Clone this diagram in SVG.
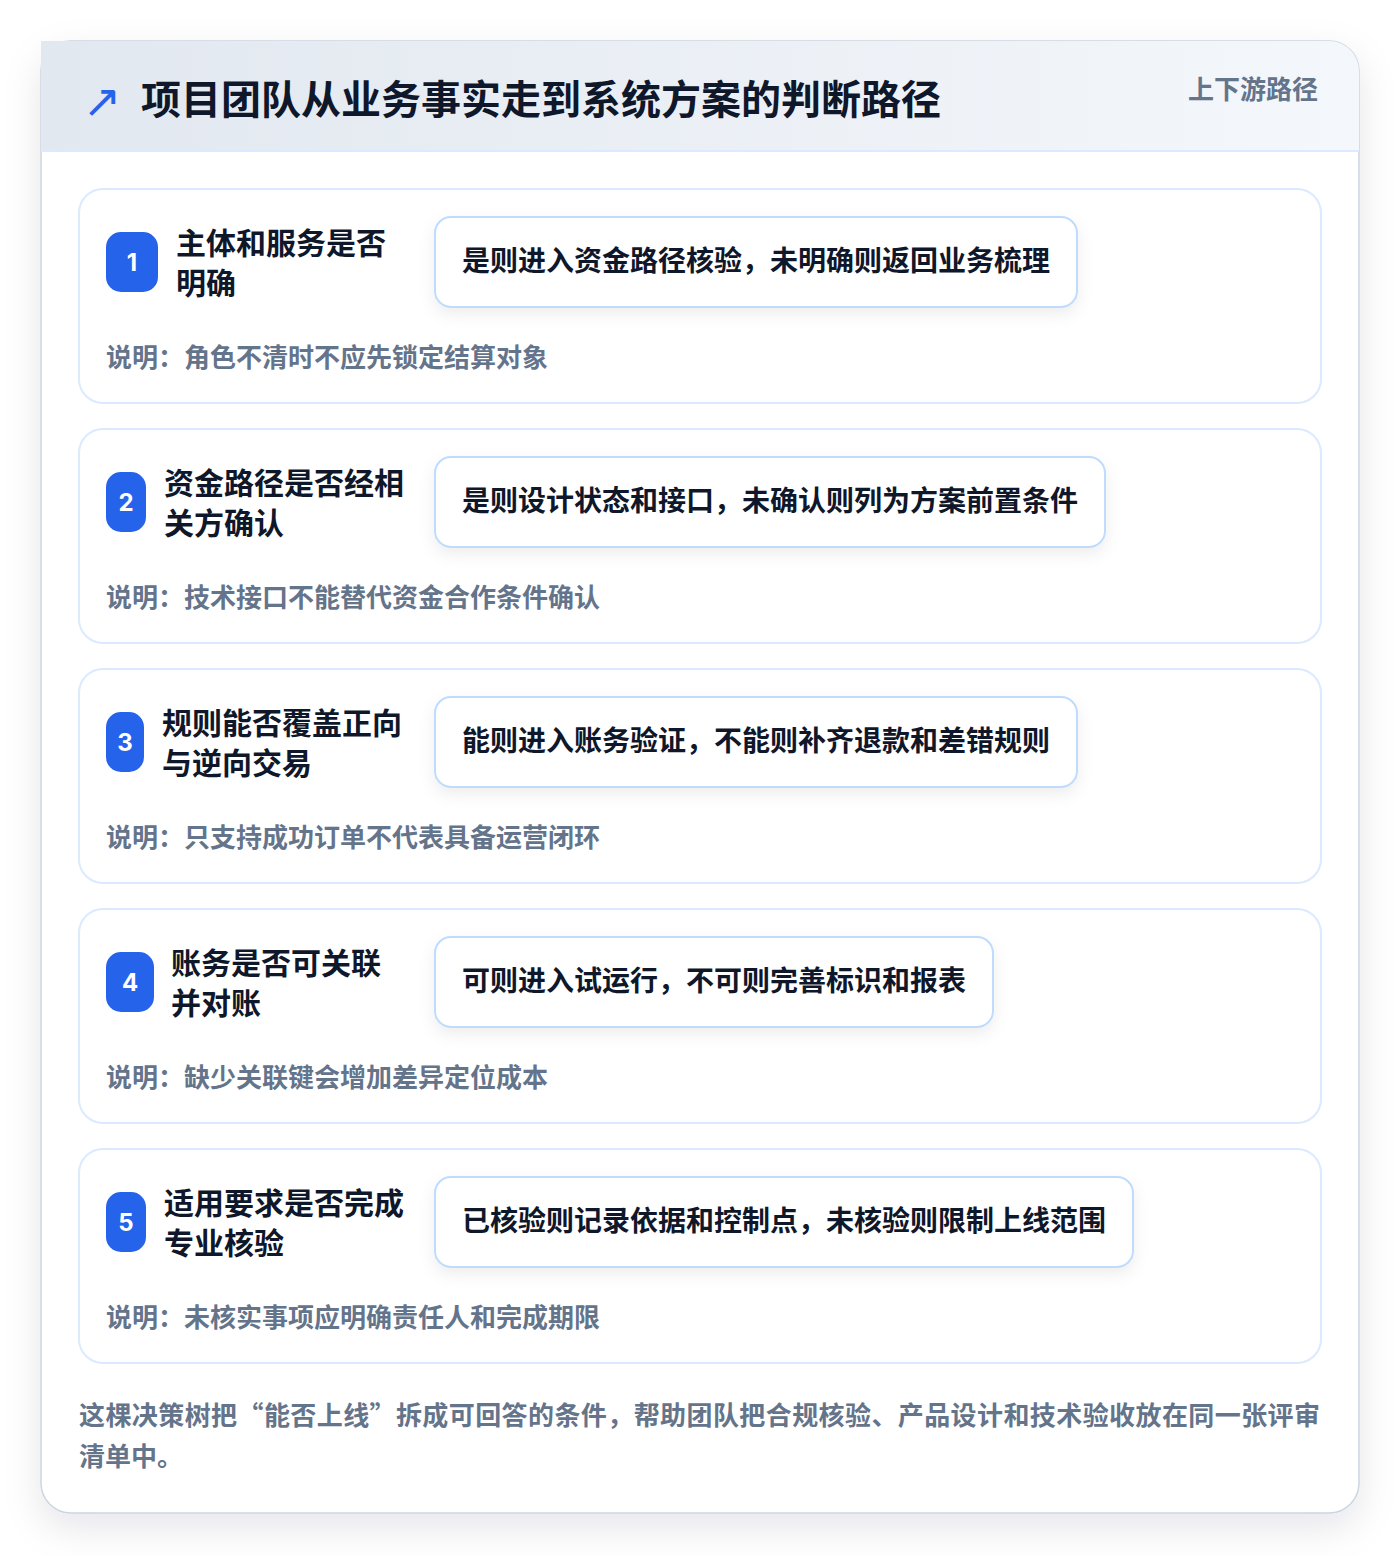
<svg xmlns="http://www.w3.org/2000/svg" width="1400" height="1556" viewBox="0 0 1400 1556">
<defs>
<linearGradient id="hdr" x1="0" y1="0" x2="1" y2="0">
<stop offset="0" stop-color="#e2e8f0"/>
<stop offset="1" stop-color="#f4f7fb"/>
</linearGradient>
<filter id="panelShadow" x="-10%" y="-10%" width="120%" height="120%">
<feDropShadow dx="0" dy="14" stdDeviation="18" flood-color="#0f172a" flood-opacity="0.10"/>
</filter>
<filter id="boxShadow" x="-10%" y="-20%" width="120%" height="150%">
<feDropShadow dx="0" dy="6" stdDeviation="8" flood-color="#0f172a" flood-opacity="0.07"/>
</filter>
<style>
.card{fill:#ffffff;stroke:#dbeafe;stroke-width:2}
.box{fill:#ffffff;stroke:#bfdbfe;stroke-width:2}
.badge{fill:#2563eb}
.num{font-family:"Inter","Noto Sans",sans-serif;font-weight:700;font-size:24px;fill:#ffffff;text-anchor:middle}
.ttl{font-family:"Noto Sans CJK SC",sans-serif;font-weight:700;font-size:30px;fill:#0f172a}
.dec{font-family:"Noto Sans CJK SC",sans-serif;font-weight:700;font-size:28px;fill:#0f172a}
.note{font-family:"Noto Sans CJK SC",sans-serif;font-weight:700;font-size:26px;fill:#64748b}
</style>
</defs>
<rect x="0" y="0" width="1400" height="1556" fill="#ffffff"/>
<g id="panel">
<rect x="41" y="41" width="1318" height="1472" rx="30" fill="#ffffff" stroke="#cbd5e1" stroke-width="1.5" filter="url(#panelShadow)"/>
<path d="M41 41 H1329 A30 30 0 0 1 1359 71 V151 H41 Z" fill="url(#hdr)"/>
<line x1="41" y1="151" x2="1359" y2="151" stroke="#dbeafe" stroke-width="2"/>
<text x="83" y="117" font-family="DejaVu Sans,sans-serif" font-size="46" fill="#2563eb">↗</text>
<text x="141" y="114" font-family="Noto Sans CJK SC,sans-serif" font-weight="700" font-size="40" fill="#0f172a">项目团队从业务事实走到系统方案的判断路径</text>
<text x="1318" y="99" text-anchor="end" font-family="Noto Sans CJK SC,sans-serif" font-weight="700" font-size="26" fill="#64748b">上下游路径</text>
</g>
<g id="connectors"></g>
<g id="node1">
<rect class="card" x="79" y="189" width="1242" height="214" rx="24"/>
<rect class="badge" x="106" y="232" width="52" height="60" rx="15"/>
<text class="num" x="132" y="271">1</text>
<text class="ttl" x="176" y="254">主体和服务是否</text>
<text class="ttl" x="176" y="294">明确</text>
<rect class="box" x="435" y="217" width="642" height="90" rx="16" filter="url(#boxShadow)"/>
<text class="dec" x="462" y="271">是则进入资金路径核验，未明确则返回业务梳理</text>
<text class="note" x="106" y="367">说明：角色不清时不应先锁定结算对象</text>
</g>
<g id="node2">
<rect class="card" x="79" y="429" width="1242" height="214" rx="24"/>
<rect class="badge" x="106" y="472" width="40" height="60" rx="15"/>
<text class="num" x="126" y="511">2</text>
<text class="ttl" x="164" y="494">资金路径是否经相</text>
<text class="ttl" x="164" y="534">关方确认</text>
<rect class="box" x="435" y="457" width="670" height="90" rx="16" filter="url(#boxShadow)"/>
<text class="dec" x="462" y="511">是则设计状态和接口，未确认则列为方案前置条件</text>
<text class="note" x="106" y="607">说明：技术接口不能替代资金合作条件确认</text>
</g>
<g id="node3">
<rect class="card" x="79" y="669" width="1242" height="214" rx="24"/>
<rect class="badge" x="106" y="712" width="38" height="60" rx="15"/>
<text class="num" x="125" y="751">3</text>
<text class="ttl" x="162" y="734">规则能否覆盖正向</text>
<text class="ttl" x="162" y="774">与逆向交易</text>
<rect class="box" x="435" y="697" width="642" height="90" rx="16" filter="url(#boxShadow)"/>
<text class="dec" x="462" y="751">能则进入账务验证，不能则补齐退款和差错规则</text>
<text class="note" x="106" y="847">说明：只支持成功订单不代表具备运营闭环</text>
</g>
<g id="node4">
<rect class="card" x="79" y="909" width="1242" height="214" rx="24"/>
<rect class="badge" x="106" y="952" width="48" height="60" rx="15"/>
<text class="num" x="130" y="991">4</text>
<text class="ttl" x="171" y="974">账务是否可关联</text>
<text class="ttl" x="171" y="1014">并对账</text>
<rect class="box" x="435" y="937" width="558" height="90" rx="16" filter="url(#boxShadow)"/>
<text class="dec" x="462" y="991">可则进入试运行，不可则完善标识和报表</text>
<text class="note" x="106" y="1087">说明：缺少关联键会增加差异定位成本</text>
</g>
<g id="node5">
<rect class="card" x="79" y="1149" width="1242" height="214" rx="24"/>
<rect class="badge" x="106" y="1192" width="40" height="60" rx="15"/>
<text class="num" x="126" y="1231">5</text>
<text class="ttl" x="164" y="1214">适用要求是否完成</text>
<text class="ttl" x="164" y="1254">专业核验</text>
<rect class="box" x="435" y="1177" width="698" height="90" rx="16" filter="url(#boxShadow)"/>
<text class="dec" x="462" y="1231">已核验则记录依据和控制点，未核验则限制上线范围</text>
<text class="note" x="106" y="1327">说明：未核实事项应明确责任人和完成期限</text>
</g>
<g id="footer">
<text class="note" x="79" y="1425" textLength="1241" lengthAdjust="spacing">这棵决策树把“能否上线”拆成可回答的条件，帮助团队把合规核验、产品设计和技术验收放在同一张评审</text>
<text class="note" x="79" y="1466">清单中。</text>
</g>
</svg>
